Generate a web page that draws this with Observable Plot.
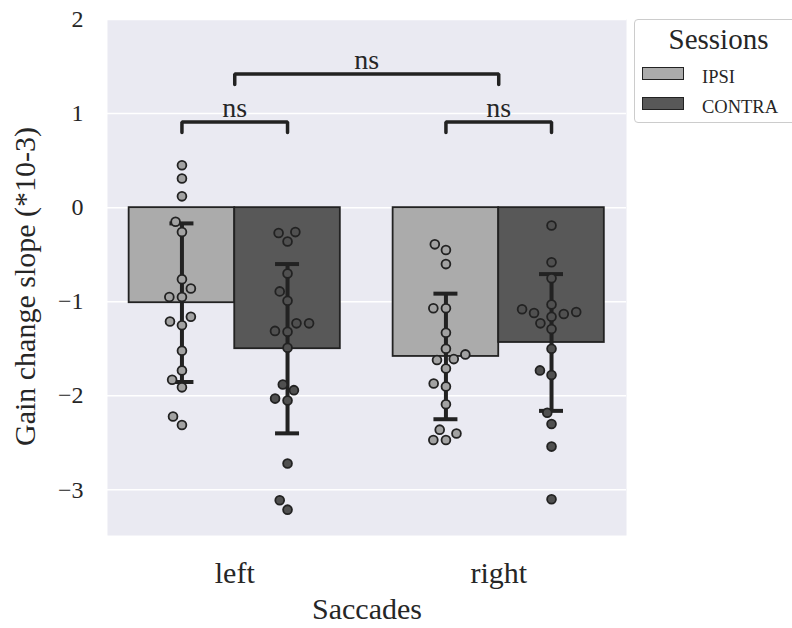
<!DOCTYPE html>
<html>
<head>
<meta charset="utf-8">
<script src="https://cdn.jsdelivr.net/npm/d3@7"></script>
<script src="https://cdn.jsdelivr.net/npm/@observablehq/plot@0.6"></script>
<style>
  html, body { margin: 0; padding: 0; background: #fff; overflow: hidden; }
  #wrap { position: relative; width: 792px; height: 628px; overflow: hidden; font-family: "Liberation Serif", "DejaVu Serif", serif; color: #262626; }
  #legend { position: absolute; left: 634px; top: 19px; width: 170px; height: 104px; box-sizing: border-box;
            border: 1px solid #cccccc; border-radius: 4px; background: rgba(255,255,255,0.8); }
  #legend .title { position: absolute; left: 0; width: 167px; top: 5px; text-align: center; font-size: 29px; line-height: 29px; }
  #legend .row { position: absolute; left: 7px; height: 16px; }
  #legend .sw { position: absolute; left: 0; top: 0; width: 40px; height: 11px; border: 1.6px solid #222; }
  #legend .lab { position: absolute; left: 60px; top: 1px; font-size: 18.5px; line-height: 18px; white-space: nowrap; }
</style>
</head>
<body>
<div id="wrap"><div id="chart"></div><div id="legend"></div></div>
<script>
// ---- data ----
const saccades = ["left", "right"];
const sessions = ["IPSI", "CONTRA"];
const leftIpsi    = [0.45, 0.31, 0.12, -0.15, -0.26, -0.76, -0.86, -0.95, -0.95, -1.16, -1.21, -1.25, -1.52, -1.73, -1.83, -1.91, -2.22, -2.31];
const leftContra  = [-0.26, -0.27, -0.36, -0.70, -0.89, -0.99, -1.23, -1.23, -1.31, -1.32, -1.49, -1.88, -1.94, -2.03, -2.05, -2.72, -3.11, -3.21];
const rightIpsi   = [-0.39, -0.45, -0.60, -1.07, -1.07, -1.33, -1.50, -1.56, -1.61, -1.62, -1.71, -1.87, -1.90, -2.09, -2.36, -2.40, -2.47, -2.47];
const rightContra = [-0.19, -0.58, -0.75, -1.03, -1.08, -1.11, -1.12, -1.13, -1.16, -1.23, -1.29, -1.50, -1.73, -1.78, -2.18, -2.30, -2.54, -3.10];
const yTicks = [-3, -2, -1, 0, 1, 2];
const sigLabels = ["ns", "ns", "ns"];
const sigHeights = [0.91, 0.91, 1.42];
const xLabel = "Saccades";
const yLabel = "Gain change slope (*10-3)";
const legendTitle = "Sessions";

// ---- layout ----
const W = 792, H = 628, mL = 107, mR = 166, mT = 19, mB = 93;
const xDomain = [-0.482, 1.484], yDomain = [-3.485, 2.0];
const pxPerX = (W - mL - mR) / (xDomain[1] - xDomain[0]);
const yPx = d3.scaleLinear(yDomain, [H - mB, mT]);
const fills = {IPSI: "#ababab", CONTRA: "#585858"};
const dotFills = {IPSI: "#a2a2a2", CONTRA: "#505050"};
const ink = "#222222";
const barWidth = 0.8;

const groups = [
  {saccade: "left", session: "IPSI", values: leftIpsi},
  {saccade: "left", session: "CONTRA", values: leftContra},
  {saccade: "right", session: "IPSI", values: rightIpsi},
  {saccade: "right", session: "CONTRA", values: rightContra}
];
const half = barWidth / sessions.length;
groups.forEach(g => {
  const gi = saccades.indexOf(g.saccade), si = sessions.indexOf(g.session);
  g.x1 = gi - barWidth / 2 + si * half;
  g.x2 = g.x1 + half;
  g.cx = (g.x1 + g.x2) / 2;
  g.mean = d3.mean(g.values);
  g.sd = d3.deviation(g.values);
});

// seaborn-like beeswarm in pixel space
const R = 6; // layout radius incl. edge
function swarm(values) {
  const order = values.map((v, i) => i).sort((a, b) => values[a] - values[b]);
  const placed = [];
  const out = new Array(values.length);
  order.forEach((idx, k) => {
    const y = -yPx(values[idx]);
    if (k === 0) { placed.push({x: 0, y}); out[idx] = 0; return; }
    const neighbors = [];
    for (let j = placed.length - 1; j >= 0; j--) {
      if (y - placed[j].y < 2 * R) neighbors.push(placed[j]); else break;
    }
    neighbors.reverse();
    const cands = [0];
    let leftFirst = true;
    for (const n of neighbors) {
      const dy = y - n.y;
      const dx = Math.sqrt(Math.max(4 * R * R - dy * dy, 0)) * 1.05;
      if (leftFirst) cands.push(n.x - dx, n.x + dx); else cands.push(n.x + dx, n.x - dx);
      leftFirst = !leftFirst;
    }
    const sorted = cands.map((c, i) => [c, i]).sort((a, b) => Math.abs(a[0]) - Math.abs(b[0]) || a[1] - b[1]).map(d => d[0]);
    let chosen = sorted[sorted.length - 1];
    for (const c of sorted) {
      if (neighbors.every(n => (c - n.x) ** 2 + (y - n.y) ** 2 >= 4 * R * R - 1e-6)) { chosen = c; break; }
    }
    placed.push({x: chosen, y});
    out[idx] = chosen;
  });
  return out;
}

const points = [];
groups.forEach(g => {
  const offs = swarm(g.values);
  g.values.forEach((v, i) => points.push({session: g.session, x: g.cx + offs[i] / pxPerX, y: v}));
});

// significance brackets
const centerOf = (sac, ses) => groups.find(g => g.saccade === sac && g.session === ses).cx;
const bracketEnds = [
  [centerOf("left", "IPSI"), centerOf("left", "CONTRA")],
  [centerOf("right", "IPSI"), centerOf("right", "CONTRA")],
  [saccades.indexOf("left"), saccades.indexOf("right")]
];
const tickLen = 0.11;
const bracketPts = [];
bracketEnds.forEach(([a, b], i) => {
  const h = sigHeights[i];
  bracketPts.push({k: i, x: a, y: h - tickLen}, {k: i, x: a, y: h}, {k: i, x: b, y: h}, {k: i, x: b, y: h - tickLen});
});
const sigText = bracketEnds.map(([a, b], i) => ({x: (a + b) / 2, y: sigHeights[i], t: sigLabels[i]}));

const capHalf = 12 / pxPerX;

const chart = Plot.plot({
  width: W, height: H,
  marginLeft: mL, marginRight: mR, marginTop: mT, marginBottom: mB,
  style: {fontFamily: "'Liberation Serif', 'DejaVu Serif', serif", color: "#262626", background: "white", overflow: "visible"},
  x: {type: "linear", domain: xDomain, label: null},
  y: {domain: yDomain, label: null},
  marks: [
    Plot.frame({fill: "#eaeaf2", stroke: null}),
    Plot.ruleY(yTicks, {stroke: "white", strokeWidth: 1.5}),
    Plot.rectY(groups, {x1: "x1", x2: "x2", y1: 0, y2: "mean", fill: d => fills[d.session], stroke: ink, strokeWidth: 1.8}),
    Plot.ruleX(groups, {x: "cx", y1: d => d.mean - d.sd, y2: d => d.mean + d.sd, stroke: ink, strokeWidth: 4}),
    Plot.ruleY(groups, {y: d => d.mean - d.sd, x1: d => d.cx - capHalf, x2: d => d.cx + capHalf, stroke: ink, strokeWidth: 4}),
    Plot.ruleY(groups, {y: d => d.mean + d.sd, x1: d => d.cx - capHalf, x2: d => d.cx + capHalf, stroke: ink, strokeWidth: 4}),
    Plot.dot(points, {x: "x", y: "y", r: 4.4, fill: d => dotFills[d.session], stroke: ink, strokeWidth: 1.8}),
    Plot.line(bracketPts, {x: "x", y: "y", z: "k", stroke: ink, strokeWidth: 3.5, strokeLinecap: "round", strokeLinejoin: "miter"}),
    Plot.text(sigText, {x: "x", y: "y", text: "t", fontSize: 28, lineAnchor: "bottom", dy: -5, fill: "#262626"}),
    Plot.axisY({ticks: yTicks, tickFormat: "d", tickSize: 0, tickPadding: 24, fontSize: 24, label: null}),
    Plot.axisX({ticks: [0, 1], tickFormat: i => saccades[i], tickSize: 0, tickPadding: 26, fontSize: 30, label: null}),
    Plot.text([yLabel], {frameAnchor: "left", textAnchor: "middle", dx: -82, dy: 9, rotate: -90, fontSize: 30, fill: "#262626"}),
    Plot.text([xLabel], {frameAnchor: "bottom", textAnchor: "middle", dy: 83, fontSize: 30, fill: "#262626"})
  ]
});
document.getElementById("chart").appendChild(chart);

// legend
const leg = document.getElementById("legend");
const t = document.createElement("div");
t.className = "title"; t.textContent = legendTitle;
leg.appendChild(t);
sessions.forEach((s, i) => {
  const row = document.createElement("div");
  row.className = "row"; row.style.top = (47 + i * 29.5) + "px";
  const sw = document.createElement("div"); sw.className = "sw"; sw.style.background = fills[s];
  const lab = document.createElement("div"); lab.className = "lab"; lab.textContent = s;
  row.appendChild(sw); row.appendChild(lab); leg.appendChild(row);
});
</script>
</body>
</html>
